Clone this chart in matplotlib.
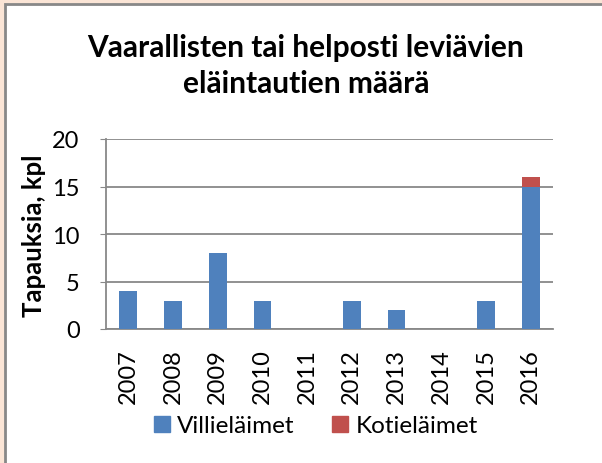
import numpy as np
import matplotlib
matplotlib.use("Agg")
import matplotlib.pyplot as plt
from matplotlib.patches import Rectangle, Patch

# data
years = ["2007", "2008", "2009", "2010", "2011", "2012", "2013", "2014", "2015", "2016"]
villielaimet = [4, 3, 8, 3, 0, 3, 2, 0, 3, 15]
kotielaimet = [0, 0, 0, 0, 0, 0, 0, 0, 0, 1]
yticks = [0, 5, 10, 15, 20]

plt.rcParams["font.family"] = ["Lato", "DejaVu Sans"]

W, H = 602, 464
fig = plt.figure(figsize=(W / 100, H / 100), dpi=100, facecolor="#FBE5D6")

# chart frame (cropped on the right and bottom)
fig.patches.append(Rectangle((5 / W, -0.1), 1.2, (H - 5) / H + 0.1,
                             transform=fig.transFigure, facecolor="white",
                             edgecolor="#888888", linewidth=2, zorder=0))

ax = fig.add_axes([106 / W, 134 / H, 447 / W, 190 / H])
ax.set_zorder(2)
ax.set_facecolor("none")

x = np.arange(len(years))
ax.bar(x, villielaimet, width=0.4, color="#4F81BD", zorder=3)
ax.bar(x, kotielaimet, width=0.4, bottom=villielaimet, color="#C0504D", zorder=3)

ax.set_xlim(-0.5, len(years) - 0.5)
ax.set_ylim(0, 20)
ax.set_yticks(yticks)
ax.set_xticks(x)
ax.set_xticklabels(years, rotation=90)
ax.tick_params(axis="y", labelsize=17, length=4, color="#888888", pad=15)
ax.tick_params(axis="x", labelsize=17, length=0, pad=14)
ax.grid(axis="y", color="#888888", linewidth=1.3, zorder=1)

for side in ["top", "right"]:
    ax.spines[side].set_visible(False)
for side in ["left", "bottom"]:
    ax.spines[side].set_color("#888888")
    ax.spines[side].set_linewidth(1.3)

# title and axis label
fig.text(306 / W, (H - 57) / H, "Vaarallisten tai helposti leviävien",
         ha="center", va="baseline", fontsize=21.5, fontweight="bold")
fig.text(306 / W, (H - 93) / H, "eläintautien määrä",
         ha="center", va="baseline", fontsize=21.5, fontweight="bold")
fig.text(34 / W, (H - 236) / H, "Tapauksia, kpl", rotation=90,
         ha="center", va="center", fontsize=18.5, fontweight="bold")

handles = [Patch(color="#4F81BD", label="Villieläimet"),
           Patch(color="#C0504D", label="Kotieläimet")]
fig.legend(handles=handles, loc="center", bbox_to_anchor=(316 / W, (H - 427) / H),
           ncol=2, frameon=False, fontsize=17.5, handlelength=0.65, handleheight=0.65,
           handletextpad=0.3, columnspacing=1.55)

fig.savefig("out.png", dpi=100, facecolor=fig.get_facecolor())
